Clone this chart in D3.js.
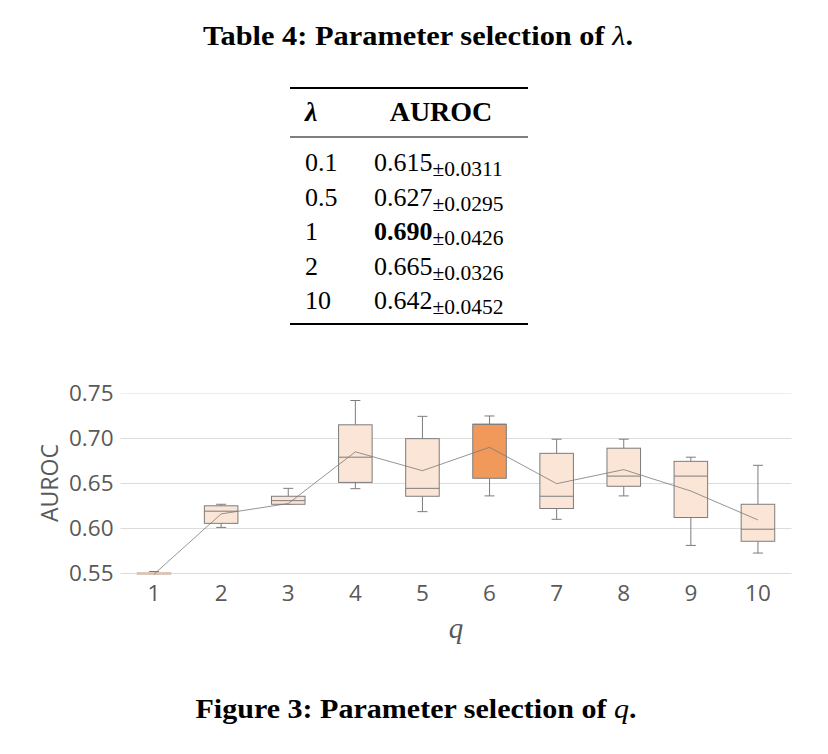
<!DOCTYPE html>
<html>
<head>
<meta charset="utf-8">
<script src="https://cdn.jsdelivr.net/npm/d3@7/dist/d3.min.js"></script>
<style>
  html, body { margin: 0; padding: 0; background: #fff; }
  svg { display: block; }
</style>
</head>
<body>
<svg id="fig" width="828" height="754"></svg>
<script>
// ---------- Table data ----------
const lambdas = ["0.1", "0.5", "1", "2", "10"];
const aurocMean = ["0.615", "0.627", "0.690", "0.665", "0.642"];
const aurocStd = ["±0.0311", "±0.0295", "±0.0426", "±0.0326", "±0.0452"];
const bestRow = 2;

// ---------- Box plot data ----------
const qValues = ["1", "2", "3", "4", "5", "6", "7", "8", "9", "10"];
const whiskerLow  = [0.549, 0.601, 0.627, 0.644, 0.6185, 0.636, 0.610, 0.636, 0.581, 0.5725];
const q1          = [0.5488, 0.6055, 0.6267, 0.651, 0.6356, 0.6556, 0.622, 0.6467, 0.612, 0.5856];
const median      = [0.550, 0.619, 0.6307, 0.679, 0.6444, 0.7156, 0.6356, 0.658, 0.658, 0.599];
const q3          = [0.5507, 0.625, 0.6356, 0.715, 0.6996, 0.7156, 0.6833, 0.689, 0.6744, 0.6267];
const whiskerHigh = [0.552, 0.6267, 0.6444, 0.742, 0.7244, 0.7248, 0.699, 0.699, 0.679, 0.670];
const meanVals    = [0.549, 0.616, 0.6275, 0.685, 0.664, 0.690, 0.6496, 0.6652, 0.6414, 0.6093];
const yTicks = [0.55, 0.60, 0.65, 0.70, 0.75];
const bestQ = "6";

const svg = d3.select("#fig");
svg.append("rect").attr("width", 828).attr("height", 754).attr("fill", "#fff");

const serif = "'Liberation Serif', 'Times New Roman', serif";
const sans = "'Open Sans', 'Noto Sans', sans-serif";

// ---------- Table caption ----------
const cap1 = svg.append("text")
  .attr("x", 418).attr("y", 45)
  .attr("text-anchor", "middle")
  .attr("font-family", serif).attr("font-weight", "bold").attr("font-size", 27)
  .attr("textLength", 430).attr("lengthAdjust", "spacingAndGlyphs")
  .attr("fill", "#000");
cap1.append("tspan").text("Table 4: Parameter selection of ");
cap1.append("tspan").attr("font-style", "italic").attr("font-weight", "normal").text("λ");
cap1.append("tspan").text(".");

// ---------- Table ----------
const tLeft = 290, tRight = 528;
svg.append("line").attr("x1", tLeft).attr("x2", tRight).attr("y1", 88).attr("y2", 88)
  .attr("stroke", "#000").attr("stroke-width", 2);
svg.append("line").attr("x1", tLeft).attr("x2", tRight).attr("y1", 137).attr("y2", 137)
  .attr("stroke", "#000").attr("stroke-width", 1.2);
svg.append("line").attr("x1", tLeft).attr("x2", tRight).attr("y1", 324).attr("y2", 324)
  .attr("stroke", "#000").attr("stroke-width", 2);

svg.append("text").attr("x", 305).attr("y", 121)
  .attr("font-family", serif).attr("font-weight", "bold").attr("font-style", "italic")
  .attr("font-size", 28).text("λ");
svg.append("text").attr("x", 441).attr("y", 121).attr("text-anchor", "middle")
  .attr("font-family", serif).attr("font-weight", "bold")
  .attr("font-size", 28).text("AUROC");

const rowY = d3.scaleLinear().domain([0, 4]).range([171, 309]);
lambdas.forEach((l, i) => {
  svg.append("text").attr("x", 305).attr("y", rowY(i))
    .attr("font-family", serif).attr("font-size", 26).text(l);
  const t = svg.append("text").attr("x", 374).attr("y", rowY(i))
    .attr("font-family", serif).attr("font-size", 26);
  t.append("tspan").attr("font-weight", i === bestRow ? "bold" : "normal").text(aurocMean[i]);
  t.append("tspan").attr("font-size", 21.5).attr("dy", 5).text(aurocStd[i]);
});

// ---------- Box plot ----------
const plot = { left: 120.5, right: 791.5, top: 393.3, bottom: 573.3 };
const x = d3.scaleBand().domain(qValues).range([plot.left, plot.right]).padding(0);
const y = d3.scaleLinear().domain([0.55, 0.75]).range([plot.bottom, plot.top]);

// gridlines
const grid = svg.append("g");
yTicks.forEach(t => {
  grid.append("line")
    .attr("x1", plot.left).attr("x2", plot.right)
    .attr("y1", Math.round(y(t)) + 0.5).attr("y2", Math.round(y(t)) + 0.5)
    .attr("stroke", t === 0.75 ? "#ececec" : "#dcdcdc").attr("stroke-width", 1);
});

// y axis labels
const yAxis = d3.axisLeft(y).tickValues(yTicks).tickFormat(d3.format(".2f")).tickSize(0).tickPadding(7);
const gy = svg.append("g").attr("transform", `translate(${plot.left},0)`).call(yAxis);
gy.select(".domain").remove();
gy.selectAll("text").attr("font-family", sans).attr("font-size", 22.5).attr("fill", "#595959");

// x axis labels
const xAxis = d3.axisBottom(x).tickSize(0).tickPadding(12);
const gx = svg.append("g").attr("transform", `translate(0,${plot.bottom})`).call(xAxis);
gx.select(".domain").remove();
gx.selectAll("text").attr("font-family", sans).attr("font-size", 22.5).attr("fill", "#595959");

// axis titles
svg.append("text")
  .attr("transform", `translate(58,483) rotate(-90)`)
  .attr("text-anchor", "middle")
  .attr("font-family", sans).attr("font-size", 23).attr("fill", "#595959")
  .text("AUROC");
svg.append("text")
  .attr("x", (plot.left + plot.right) / 2).attr("y", 638)
  .attr("text-anchor", "middle")
  .attr("font-family", serif).attr("font-style", "italic").attr("font-size", 29).attr("fill", "#595959")
  .text("q");

// boxes
const boxW = x.bandwidth() * 0.5;
const capW = 10;
const lineCol = "#7c7c7c";
const gBox = svg.append("g");
qValues.forEach((qv, i) => {
  const cx = x(qv) + x.bandwidth() / 2;
  const g = gBox.append("g");
  // whiskers
  g.append("line").attr("x1", cx).attr("x2", cx).attr("y1", y(q3[i])).attr("y2", y(whiskerHigh[i]))
    .attr("stroke", lineCol).attr("stroke-width", 1);
  g.append("line").attr("x1", cx).attr("x2", cx).attr("y1", y(q1[i])).attr("y2", y(whiskerLow[i]))
    .attr("stroke", lineCol).attr("stroke-width", 1);
  g.append("line").attr("x1", cx - capW / 2).attr("x2", cx + capW / 2)
    .attr("y1", y(whiskerHigh[i])).attr("y2", y(whiskerHigh[i]))
    .attr("stroke", lineCol).attr("stroke-width", 1);
  g.append("line").attr("x1", cx - capW / 2).attr("x2", cx + capW / 2)
    .attr("y1", y(whiskerLow[i])).attr("y2", y(whiskerLow[i]))
    .attr("stroke", lineCol).attr("stroke-width", 1);
  // box
  g.append("rect")
    .attr("x", cx - boxW / 2).attr("width", boxW)
    .attr("y", y(q3[i])).attr("height", Math.max(1, y(q1[i]) - y(q3[i])))
    .attr("fill", qv === bestQ ? "#f0995a" : "#fbe5d6")
    .attr("stroke", i === 0 ? "#d8c4b8" : lineCol).attr("stroke-width", 1);
  // median
  g.append("line").attr("x1", cx - boxW / 2).attr("x2", cx + boxW / 2)
    .attr("y1", y(median[i])).attr("y2", y(median[i]))
    .attr("stroke", i === 0 ? "#e8b89a" : lineCol).attr("stroke-width", 1);
});

// mean line
const line = d3.line()
  .x((d, i) => x(qValues[i]) + x.bandwidth() / 2)
  .y(d => y(d));
svg.append("path").datum(meanVals)
  .attr("d", line)
  .attr("fill", "none").attr("stroke", "#7a7a7a").attr("stroke-width", 0.8);

// ---------- Figure caption ----------
const cap2 = svg.append("text")
  .attr("x", 416).attr("y", 718)
  .attr("text-anchor", "middle")
  .attr("font-family", serif).attr("font-weight", "bold").attr("font-size", 27)
  .attr("textLength", 441).attr("lengthAdjust", "spacingAndGlyphs")
  .attr("fill", "#000");
cap2.append("tspan").text("Figure 3: Parameter selection of ");
cap2.append("tspan").attr("font-style", "italic").attr("font-weight", "normal").text("q");
cap2.append("tspan").text(".");
</script>
</body>
</html>
